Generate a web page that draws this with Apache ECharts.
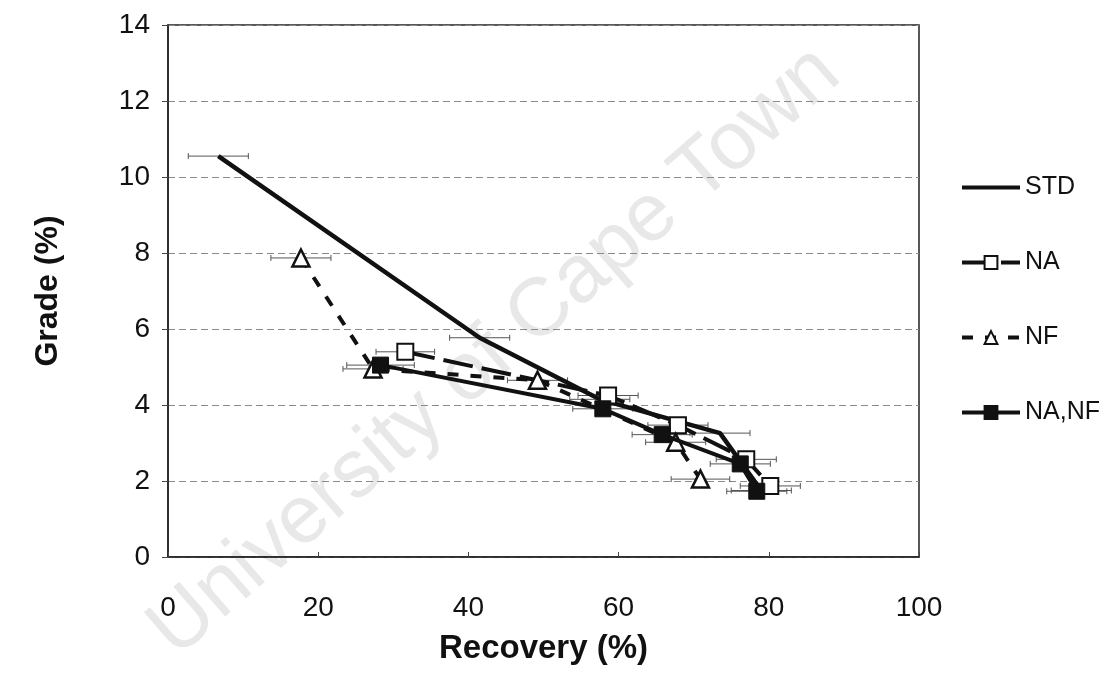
<!DOCTYPE html>
<html>
<head>
<meta charset="utf-8">
<script src="https://cdn.jsdelivr.net/npm/echarts@6/dist/echarts.min.js"></script>
<style>html,body{margin:0;padding:0;background:#fff}#c{width:1118px;height:673px}</style>
</head>
<body>
<div id="c"></div>
<script>
// Recovery (%) vs Grade (%)
var stdX = [6.7, 41.5, 57.5, 73.5, 79.0];
var stdY = [10.55, 5.77, 4.15, 3.26, 1.75];
var stdErr = [4, 4, 4, 4, 4];

var naX = [31.6, 58.6, 67.9, 77.0, 80.2];
var naY = [5.4, 4.25, 3.47, 2.57, 1.87];
var naErr = [3.9, 4, 4, 4, 4];

var nfX = [17.7, 27.3, 49.2, 67.6, 70.9];
var nfY = [7.87, 4.95, 4.65, 3.02, 2.05];
var nfErr = [4, 4, 4, 4, 3.9];

var nanfX = [28.3, 57.9, 65.8, 76.2, 78.4];
var nanfY = [5.05, 3.9, 3.22, 2.45, 1.73];
var nanfErr = [4.5, 4, 4, 4, 4];

var xTicks = [0, 20, 40, 60, 80, 100];
var yTicks = [0, 2, 4, 6, 8, 10, 12, 14];

function pairs(xs, ys) { return xs.map(function (x, i) { return [x, ys[i]]; }); }
function errData(xs, ys, es) { return xs.map(function (x, i) { return [x - es[i], x + es[i], ys[i]]; }); }

function errSeries(xs, ys, es) {
  return {
    type: 'custom',
    silent: true,
    z: 1,
    data: errData(xs, ys, es),
    renderItem: function (params, api) {
      var a = api.coord([api.value(0), api.value(2)]);
      var b = api.coord([api.value(1), api.value(2)]);
      var st = { stroke: '#555', lineWidth: 1 };
      return {
        type: 'group',
        children: [
          { type: 'line', shape: { x1: a[0], y1: a[1], x2: b[0], y2: b[1] }, style: st },
          { type: 'line', shape: { x1: a[0], y1: a[1] - 3, x2: a[0], y2: a[1] + 3 }, style: st },
          { type: 'line', shape: { x1: b[0], y1: b[1] - 3, x2: b[0], y2: b[1] + 3 }, style: st }
        ]
      };
    }
  };
}

var FONT = '"Liberation Sans", Arial, sans-serif';
var chart = echarts.init(document.getElementById('c'), null, { renderer: 'canvas' });
chart.setOption({
  animation: false,
  backgroundColor: '#fff',
  graphic: [{
    type: 'text',
    rotation: 41 * Math.PI / 180,
    x: 495, y: 352,
    z: -10,
    silent: true,
    style: {
      text: 'University of Cape Town',
      font: '82px "Liberation Sans", Arial, sans-serif',
      fill: '#e8e8e8',
      align: 'center',
      verticalAlign: 'middle'
    }
  }],
  grid: { left: 168, right: 199, top: 25, bottom: 116, containLabel: false,
          outerBoundsMode: 'none',
          show: true, borderColor: '#222', borderWidth: 1.5 },
  legend: {
    orient: 'vertical', left: 955, top: 170,
    itemWidth: 58, itemHeight: 16, itemGap: 50,
    textStyle: { fontFamily: FONT, fontSize: 25, color: '#111' },
    data: [
      { name: 'STD', itemStyle: { opacity: 0 }, lineStyle: { width: 4 } },
      { name: 'NA', lineStyle: { width: 4 } },
      { name: 'NF', lineStyle: { width: 4 } },
      { name: 'NA,NF', lineStyle: { width: 4 } }
    ]
  },
  xAxis: {
    type: 'value', min: 0, max: 100, interval: 20,
    name: 'Recovery (%)', nameLocation: 'middle', nameGap: 75,
    nameTextStyle: { fontFamily: FONT, fontSize: 33, fontWeight: 'bold', color: '#111' },
    axisLine: { show: true, lineStyle: { color: '#222', width: 1.5 } },
    axisTick: { show: true, inside: true, length: 5, lineStyle: { color: '#444' } },
    axisLabel: { fontFamily: FONT, fontSize: 28, color: '#111', margin: 37,
      formatter: function (v) { return xTicks.indexOf(v) >= 0 ? String(v) : ''; } },
    splitLine: { show: false }
  },
  yAxis: {
    type: 'value', min: 0, max: 14, interval: 2,
    name: 'Grade (%)', nameLocation: 'middle', nameGap: 104,
    nameTextStyle: { fontFamily: FONT, fontSize: 32, fontWeight: 'bold', color: '#111' },
    axisLine: { show: true, lineStyle: { color: '#222', width: 1.5 } },
    axisTick: { show: true, inside: false, length: 6, lineStyle: { color: '#444' } },
    axisLabel: { fontFamily: FONT, fontSize: 28, color: '#111', margin: 18,
      formatter: function (v) { return yTicks.indexOf(v) >= 0 ? String(v) : ''; } },
    splitLine: { show: true, lineStyle: { color: '#8a8a8a', width: 1, type: [7, 4] } }
  },
  series: [
    {
      name: 'STD', type: 'line', data: pairs(stdX, stdY),
      symbol: 'none', showSymbol: false, z: 3,
      lineStyle: { color: '#111', width: 4.5 },
      itemStyle: { color: '#111' }
    },
    {
      name: 'NA', type: 'line', data: pairs(naX, naY),
      symbol: 'rect', symbolSize: 16, z: 4,
      lineStyle: { color: '#111', width: 4, type: [30, 9] },
      itemStyle: { color: '#fff', borderColor: '#111', borderWidth: 2 }
    },
    {
      name: 'NF', type: 'line', data: pairs(nfX, nfY),
      symbol: 'triangle', symbolSize: 17, z: 4,
      lineStyle: { color: '#111', width: 4, type: [11, 12] },
      itemStyle: { color: '#fff', borderColor: '#111', borderWidth: 2.5 }
    },
    {
      name: 'NA,NF', type: 'line', data: pairs(nanfX, nanfY),
      symbol: 'rect', symbolSize: 16, z: 5,
      lineStyle: { color: '#111', width: 4 },
      itemStyle: { color: '#111', borderColor: '#111', borderWidth: 1 }
    },
    errSeries(stdX, stdY, stdErr),
    errSeries(naX, naY, naErr),
    errSeries(nfX, nfY, nfErr),
    errSeries(nanfX, nanfY, nanfErr)
  ]
});
</script>
</body>
</html>
